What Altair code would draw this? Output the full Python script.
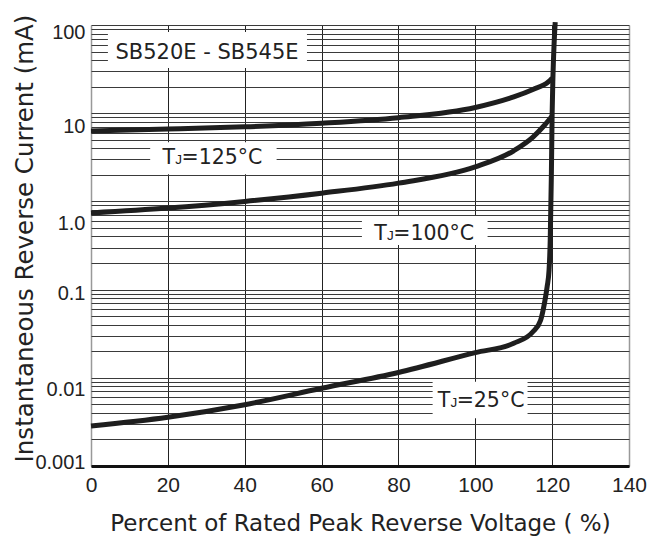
import altair as alt
import pandas as pd

# ---- data ----
x25 = [0, 20, 40, 60, 80, 100, 110, 115, 117, 118, 118.7, 119.2, 119.5, 119.8, 120.0, 120.2, 120.5, 120.8]
y25 = [0.00284, 0.00357, 0.00495, 0.0076, 0.0115, 0.0193, 0.0246, 0.0333, 0.045, 0.07, 0.108, 0.167, 0.365, 2.0, 10, 25, 60, 108]

x100 = [0, 20, 40, 60, 80, 100, 110, 115, 118, 120]
y100 = [0.74, 0.84, 1.0, 1.24, 1.61, 2.46, 3.75, 5.36, 7.3, 9.3]

x125 = [0, 20, 40, 60, 80, 100, 110, 115, 119, 120]
y125 = [6.3, 6.6, 7.0, 7.7, 8.9, 11.6, 15.3, 18.6, 22.6, 25]

x_ticks = [0, 20, 40, 60, 80, 100, 120, 140]
y_decades = [0.001, 0.01, 0.1, 1, 10, 100]
y_labels = ["0.001", "0.01", "0.1", "1.0", "10", "100"]
y_label_shift = [-4, 12, 4, 22, 13, 7]
minor_mult = [1, 2, 3, 4, 5, 6, 7, 8, 9]

# annotation boxes (data coords) and texts
box_x = [4.4, 15.4, 70.5, 88.9]
box_x2 = [56.2, 48.3, 103.2, 113.6]
box_y = [32.5, 2.03, 0.32, 0.00347]
box_y2 = [83.3, 4.68, 0.683, 0.00903]

title_text = ["SB520E - SB545E"]
title_x = [30.2]
title_y = [40.8]

tj_text = ["=125°C", "=100°C", "=25°C"]
tj_x = [18.6, 73.7, 90.2]
tj_y = [2.63, 0.365, 0.0047]

grid_vals = [round(m * d, 6) for d in y_decades[:-1] for m in minor_mult] + [100]

curves = pd.DataFrame(
    [{"x": a, "y": b, "s": "25"} for a, b in zip(x25, y25)]
    + [{"x": a, "y": b, "s": "100"} for a, b in zip(x100, y100)]
    + [{"x": a, "y": b, "s": "125"} for a, b in zip(x125, y125)]
)
boxes = pd.DataFrame({"x": box_x, "x2": box_x2, "y": box_y, "y2": box_y2})
titles = pd.DataFrame({"x": title_x, "y": title_y, "t": title_text})
tj = pd.DataFrame({"x": tj_x, "y": tj_y, "t": tj_text})

label_expr = " : ".join(
    f"datum.value == {v} ? '{lab}'" for v, lab in zip(y_decades, y_labels)
) + " : ''"
label_offset = {
    "condition": [
        {"test": f"datum.value == {v}", "value": s}
        for v, s in zip(y_decades, y_label_shift)
    ],
    "value": 0,
}

xscale = alt.Scale(domain=[0, 140], nice=False, zero=False)
yscale = alt.Scale(type="log", domain=[0.001, 100], nice=False)

xaxis = alt.Axis(
    values=x_ticks,
    title="Percent of Rated Peak Reverse Voltage ( %)",
    titleFont="DejaVu Sans",
    titleFontSize=23,
    titleFontWeight="normal",
    titleColor="#222",
    titleBaseline="alphabetic",
    titleY=64,
    labelFont="Liberation Sans",
    labelFontSize=21,
    labelColor="#222",
    labelPadding=8,
    labelFlush=False,
    ticks=False,
    domainColor="#111",
    domainWidth=3,
    grid=True,
    gridColor={
        "condition": {"test": "datum.value == 0 || datum.value == 140", "value": "#999"},
        "value": "#222",
    },
    gridWidth={
        "condition": {"test": "datum.value == 0 || datum.value == 140", "value": 1.5},
        "value": 1,
    },
    gridOpacity=1,
)
yaxis = alt.Axis(
    values=grid_vals,
    labelExpr=label_expr,
    labelOffset=label_offset,
    title="Instantaneous Reverse Current (mA)",
    titleFont="DejaVu Sans",
    titleFontSize=24.5,
    titleFontWeight="normal",
    titleColor="#222",
    titleX=-66,
    titleY=213,
    titleBaseline="middle",
    labelFont="Liberation Sans",
    labelFontSize=20,
    labelColor="#222",
    labelPadding=6,
    labelFlush=False,
    labelOverlap=False,
    ticks=False,
    domain=False,
    grid=True,
    gridColor="#3a3a3a",
    gridWidth=1,
    gridOpacity=1,
)

base_x = alt.X("x:Q", scale=xscale, axis=xaxis)
base_y = alt.Y("y:Q", scale=yscale, axis=yaxis)

rects = alt.Chart(boxes).mark_rect(fill="white").encode(
    x=alt.X("x:Q", scale=xscale, axis=xaxis),
    x2="x2:Q",
    y=alt.Y("y:Q", scale=yscale, axis=yaxis),
    y2="y2:Q",
)

lines = alt.Chart(curves).mark_line(
    color="#1e1e1e", strokeWidth=5, interpolate="monotone", strokeCap="butt"
).encode(x=base_x, y=base_y, detail="s:N")

sb = alt.Chart(titles).mark_text(
    font="DejaVu Sans", fontSize=21, color="#222", align="center", baseline="alphabetic"
).encode(x=base_x, y=base_y, text="t:N")

t_main = alt.Chart(tj).mark_text(
    font="DejaVu Sans", fontSize=20.5, color="#222", align="left", baseline="alphabetic"
).encode(x=base_x, y=base_y, text=alt.value("T"))
t_sub = alt.Chart(tj).mark_text(
    font="Liberation Sans", fontSize=13.5, color="#222", align="left", baseline="alphabetic", dx=12.8
).encode(x=base_x, y=base_y, text=alt.value("J"))
t_rest = alt.Chart(tj).mark_text(
    font="DejaVu Sans", fontSize=20.5, color="#222", align="left", baseline="alphabetic", dx=19
).encode(x=base_x, y=base_y, text="t:N")

chart = (
    alt.layer(rects, lines, sb, t_main, t_sub, t_rest)
    .properties(
        width=538,
        height=441,
        autosize=alt.AutoSizeParams(type="none"),
        padding={"left": 83, "top": 17, "right": 24, "bottom": 71},
        background="white",
    )
    .configure_view(stroke=None)
)

chart.save("out.html", embed_options={"renderer": "svg", "actions": False})
